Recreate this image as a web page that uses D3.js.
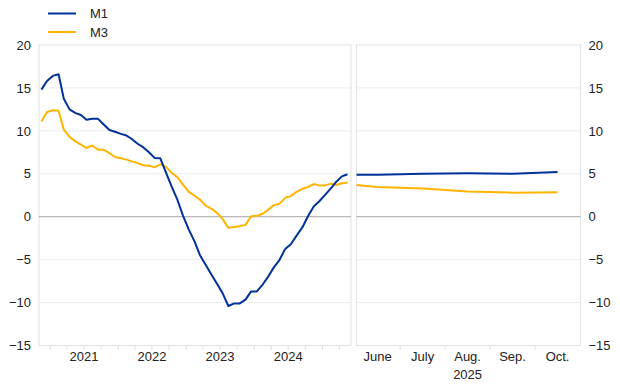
<!DOCTYPE html>
<html>
<head>
<meta charset="utf-8">
<script src="https://cdn.jsdelivr.net/npm/d3@7"></script>
<style>
  body { margin: 0; background: #fff; }
  text { font-family: "Liberation Sans", Arial, sans-serif; font-size: 13px; fill: #222; }
</style>
</head>
<body>
<div id="chart"></div>
<script>
// monthly annual growth rates, Nov 2020 - May 2025
var m1 = [14.8, 15.8, 16.4, 16.6, 13.75, 12.5, 12.1, 11.85, 11.3, 11.4,
  11.4, 10.75, 10.1, 9.9, 9.65, 9.45, 9.05, 8.5, 8.1, 7.5,
  6.85, 6.8, 5.1, 3.5, 1.95, 0.1, -1.5, -2.9, -4.45, -5.6,
  -6.7, -7.8, -8.9, -10.4, -10.1, -10.1, -9.65, -8.7, -8.7, -7.9,
  -7.0, -5.9, -5.05, -3.75, -3.2, -2.2, -1.25, 0.05, 1.2, 1.8,
  2.55, 3.3, 4.05, 4.7, 4.95];
var m3 = [11.1, 12.2, 12.4, 12.35, 10.15, 9.3, 8.8, 8.4, 8.0, 8.3,
  7.8, 7.8, 7.4, 6.95, 6.8, 6.65, 6.45, 6.25, 6.0, 5.95,
  5.75, 6.1, 5.8, 5.1, 4.6, 3.7, 2.9, 2.45, 2.0, 1.3,
  0.95, 0.45, -0.25, -1.3, -1.2, -1.1, -0.95, 0.05, 0.1, 0.35,
  0.8, 1.35, 1.5, 2.2, 2.4, 2.9, 3.25, 3.45, 3.8, 3.65,
  3.65, 3.85, 3.7, 3.9, 3.95];
var yearLabels = ["2021", "2022", "2023", "2024"];

// recent months (2025)
var recentMonths = ["May", "June", "July", "Aug.", "Sep.", "Oct."];
var m1Recent = [4.9, 4.9, 5.0, 5.05, 5.0, 5.2];
var m3Recent = [3.95, 3.45, 3.3, 2.95, 2.8, 2.85];

var series = [
  {name: "M1", color: "#003299", left: m1, right: m1Recent},
  {name: "M3", color: "#ffb400", left: m3, right: m3Recent}
];
var yTicks = [20, 15, 10, 5, 0, -5, -10, -15];

var width = 620, height = 387;
var plotTop = 45, plotBottom = 345.5;
var leftPanel = {x0: 39, x1: 351};
var rightPanel = {x0: 356.5, x1: 580.5};

var months = d3.timeMonth.range(new Date(2020, 10, 1), new Date(2025, 5, 1))
  .map(function(d){ return new Date(d.getFullYear(), d.getMonth(), 15); });

var svg = d3.select("#chart").append("svg")
  .attr("width", width).attr("height", height);

var y = d3.scaleLinear().domain([-15, 20]).range([plotBottom, plotTop]);
var xL = d3.scaleTime()
  .domain([new Date(2020, 10, 2), new Date(2025, 5, 3)])
  .range([leftPanel.x0, leftPanel.x1]);
var xR = d3.scaleLinear().domain([0.53, 5.51]).range([rightPanel.x0, rightPanel.x1]);

var defs = svg.append("defs");
[["clipL", leftPanel], ["clipR", rightPanel]].forEach(function(c){
  defs.append("clipPath").attr("id", c[0]).append("rect")
    .attr("x", c[1].x0).attr("y", plotTop - 5)
    .attr("width", c[1].x1 - c[1].x0).attr("height", plotBottom - plotTop + 10);
});

// grid + frames
[leftPanel, rightPanel].forEach(function(p){
  svg.append("g").selectAll("line").data(yTicks.filter(function(t){ return t !== 0 && t !== 20 && t !== -15; }))
    .enter().append("line")
    .attr("x1", p.x0).attr("x2", p.x1)
    .attr("y1", function(d){ return y(d); }).attr("y2", function(d){ return y(d); })
    .style("stroke", "#ececec").style("stroke-width", 1);
  svg.append("rect")
    .attr("x", p.x0).attr("y", plotTop)
    .attr("width", p.x1 - p.x0).attr("height", plotBottom - plotTop)
    .style("fill", "none").style("stroke", "#e2e2e2").style("stroke-width", 1);
  svg.append("line")
    .attr("x1", p.x0).attr("x2", p.x1)
    .attr("y1", y(0)).attr("y2", y(0))
    .style("stroke", "#a6a6a6").style("stroke-width", 1);
});

// y axes
var axL = svg.append("g").attr("transform", "translate(" + (leftPanel.x0 - 8) + ",0)")
  .call(d3.axisLeft(y).tickValues(yTicks).tickSize(0).tickPadding(0));
var axR = svg.append("g").attr("transform", "translate(" + (rightPanel.x1 + 8) + ",0)")
  .call(d3.axisRight(y).tickValues(yTicks).tickSize(0).tickPadding(0));
[axL, axR].forEach(function(a){
  a.select(".domain").remove();
  a.selectAll("text").style("font-size", "13px").style("fill", "#222")
    .style("font-family", "Liberation Sans, Arial, sans-serif");
});

// left x axis: quarterly ticks, year labels in the middle of each year
var quarterTicks = d3.timeMonth.every(3).range(new Date(2020, 11, 1), new Date(2025, 5, 1));
svg.append("g").selectAll("line").data(quarterTicks).enter().append("line")
  .attr("x1", function(d){ return xL(d); }).attr("x2", function(d){ return xL(d); })
  .attr("y1", plotBottom).attr("y2", plotBottom + 4)
  .style("stroke", "#dcdcdc");
svg.append("g").selectAll("text").data(yearLabels).enter().append("text")
  .attr("x", function(d){ return xL(new Date(+d, 6, 1)); })
  .attr("y", 360.5)
  .attr("text-anchor", "middle")
  .text(function(d){ return d; });

// right x axis
svg.append("g").selectAll("line").data(d3.range(1.5, recentMonths.length - 1, 1)).enter().append("line")
  .attr("x1", function(d){ return xR(d); }).attr("x2", function(d){ return xR(d); })
  .attr("y1", plotBottom).attr("y2", plotBottom + 4)
  .style("stroke", "#dcdcdc");
svg.append("g").selectAll("text").data(recentMonths.slice(1)).enter().append("text")
  .attr("x", function(d, i){ return xR(i + 1); })
  .attr("y", 360.5)
  .attr("text-anchor", "middle")
  .text(function(d){ return d; });
svg.append("text")
  .attr("x", xR(3)).attr("y", 378.5)
  .attr("text-anchor", "middle")
  .text("2025");

// lines
var lineL = d3.line().x(function(d, i){ return xL(months[i]); }).y(function(d){ return y(d); });
var lineR = d3.line().x(function(d, i){ return xR(i); }).y(function(d){ return y(d); });
series.slice().reverse().forEach(function(s){
  svg.append("path").attr("d", lineL(s.left)).attr("clip-path", "url(#clipL)")
    .style("fill", "none").style("stroke", s.color).style("stroke-width", 2)
    .style("stroke-linejoin", "round");
  svg.append("path").attr("d", lineR(s.right)).attr("clip-path", "url(#clipR)")
    .style("fill", "none").style("stroke", s.color).style("stroke-width", 2)
    .style("stroke-linejoin", "round");
});

// legend
var legend = svg.append("g").selectAll("g").data(series).enter().append("g")
  .attr("transform", function(d, i){ return "translate(48," + (13.5 + i * 18.5) + ")"; });
legend.append("line").attr("x1", 0).attr("x2", 28)
  .style("stroke", function(d){ return d.color; }).style("stroke-width", 2);
legend.append("text").attr("x", 42).attr("y", 4.7).text(function(d){ return d.name; });
</script>
</body>
</html>
